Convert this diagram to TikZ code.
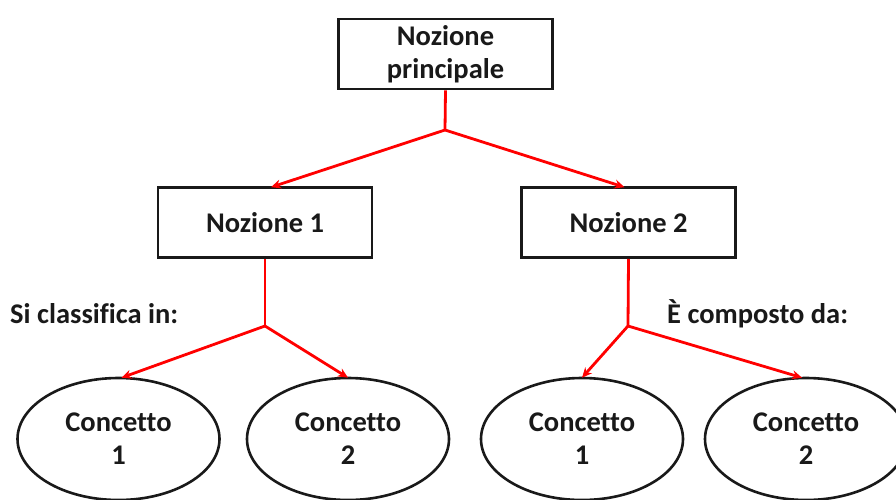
\documentclass[tikz,border=0pt]{standalone}
\usepackage{fontspec}
\setmainfont{Carlito}[Ligatures=NoCommon]
\usetikzlibrary{shapes.geometric,arrows.meta}
\begin{document}
\begin{tikzpicture}[x=1pt,y=-1pt,
  txt/.style={font=\fontsize{28.5}{33}\selectfont\bfseries, text=black!90},
  nbox/.style={txt, draw=black!90, line width=2.6pt, minimum width=214pt, minimum height=70pt, inner sep=0pt, align=center},
  concept/.style={txt, draw=black!90, line width=2.6pt, ellipse, minimum width=202pt, minimum height=122pt, inner sep=0pt, align=center},
  link/.style={red, line width=2.8pt},
  arr/.style={link, -{Stealth[length=10pt,width=9pt]}},
  lbl/.style={txt, inner sep=0pt}
]
\useasboundingbox (0,0) rectangle (896,500);
\clip (0,0) rectangle (896,500);

% boxes
\node[nbox] (top) at (445.5,54) {Nozione\\principale};
\node[nbox] (n1) at (265,222.5) {Nozione 1};
\node[nbox] (n2) at (628.5,222.5) {Nozione 2};

% ellipses
\node[concept] (c1) at (118.5,439) {Concetto\\1};
\node[concept] (c2) at (348,439) {Concetto\\2};
\node[concept] (c3) at (582,439) {Concetto\\1};
\node[concept] (c4) at (806,439) {Concetto\\2};

% branch points
\coordinate (j0) at (445,130);
\coordinate (j1) at (265,326);
\coordinate (j2) at (628,326);

% labels
\node[lbl, anchor=west] (l1) at (10,314) {Si classifica in:};
\node[lbl, anchor=west] (l2) at (667,314) {È composto da:};

% connectors
\draw[link] (top.south) -- (j0);
\draw[arr] (j0) -- ([xshift=6pt,yshift=-1pt]n1.north);
\draw[arr] (j0) -- ([xshift=-4pt,yshift=-1pt]n2.north);
\draw[link] (n1.south) -- (j1);
\draw[arr] (j1) -- ([xshift=3pt,yshift=-1pt]c1.north);
\draw[arr] (j1) -- ([yshift=-1pt]c2.north);
\draw[link] (n2.south) -- (j2);
\draw[arr] (j2) -- ([yshift=-1pt]c3.north);
\draw[arr] (j2) -- ([xshift=-4pt,yshift=-1pt]c4.north);
\end{tikzpicture}
\end{document}
